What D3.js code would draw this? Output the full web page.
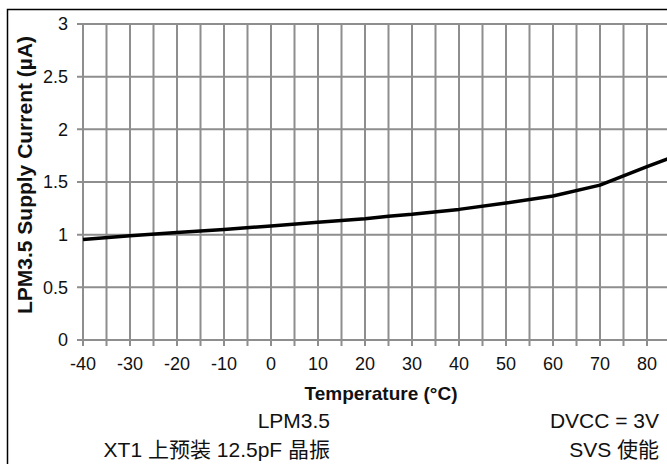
<!DOCTYPE html>
<html>
<head>
<meta charset="utf-8">
<script src="https://cdn.jsdelivr.net/npm/d3@7"></script>
<style>
body { margin: 0; background: #fff; }
text { font-family: "Liberation Sans", Arial, "Noto Sans CJK SC", sans-serif; fill: #111; }
</style>
</head>
<body>
<svg id="chart" width="667" height="464"></svg>
<script>
// LPM3.5 supply current vs temperature
var temps = [-40, -30, -20, -10, 0, 10, 20, 25, 30, 40, 50, 60, 70, 80, 85];
var current = [0.955, 0.99, 1.02, 1.05, 1.083, 1.117, 1.152, 1.175, 1.193, 1.24, 1.30, 1.367, 1.47, 1.645, 1.73];
var xTicks = [-40, -30, -20, -10, 0, 10, 20, 30, 40, 50, 60, 70, 80];
var yTicks = [0, 0.5, 1, 1.5, 2, 2.5, 3];
var notes = [
	{ text: "LPM3.5", col: 0, row: 0 },
	{ text: "DVCC = 3V", col: 1, row: 0 },
	{ text: "XT1 上预装 12.5pF 晶振", col: 0, row: 1 },
	{ text: "SVS 使能", col: 1, row: 1 }
];

var svg = d3.select("#chart");
var W = 667, H = 464;

var x = d3.scaleLinear().domain([-40, 90]).range([83, 694]);
var y = d3.scaleLinear().domain([0, 3]).range([340, 24]);

// frame (cropped on right/bottom)
svg.append("path")
	.attr("d", "M7.5," + H + "V9.5H" + W)
	.attr("fill", "none")
	.attr("stroke", "#000")
	.attr("stroke-width", 1.5);

var grid = svg.append("g").attr("stroke", "#8e8e8e").attr("stroke-width", 2);

// vertical grid every 5 degrees, with tick below axis
grid.selectAll("line.v")
	.data(d3.range(-40, 90, 5))
	.enter().append("line")
	.attr("x1", function(d) { return x(d); })
	.attr("x2", function(d) { return x(d); })
	.attr("y1", y(3))
	.attr("y2", y(0) + 6);

// horizontal grid
grid.selectAll("line.h")
	.data(yTicks)
	.enter().append("line")
	.attr("x1", x(-40) - 6)
	.attr("x2", W)
	.attr("y1", function(d) { return y(d); })
	.attr("y2", function(d) { return y(d); });

// y tick labels
svg.selectAll("text.yt")
	.data(yTicks)
	.enter().append("text")
	.attr("x", 68)
	.attr("y", function(d) { return y(d); })
	.attr("dy", "0.36em")
	.attr("text-anchor", "end")
	.style("font-size", "18px")
	.text(function(d) { return d; });

// x tick labels
svg.selectAll("text.xt")
	.data(xTicks)
	.enter().append("text")
	.attr("x", function(d) { return x(d); })
	.attr("y", 370)
	.attr("text-anchor", "middle")
	.style("font-size", "18px")
	.text(function(d) { return d; });

// data line
var line = d3.line()
	.x(function(d, i) { return x(temps[i]); })
	.y(function(d) { return y(d); });

svg.append("path")
	.datum(current)
	.attr("d", line)
	.attr("fill", "none")
	.attr("stroke", "#000")
	.attr("stroke-width", 3.5)
	.attr("stroke-linejoin", "round");

// axis titles
svg.append("text")
	.attr("transform", "translate(32,175) rotate(-90)")
	.attr("text-anchor", "middle")
	.style("font-size", "21px")
	.style("font-weight", "bold")
	.text("LPM3.5 Supply Current (µA)");

svg.append("text")
	.attr("x", 381)
	.attr("y", 400)
	.attr("text-anchor", "middle")
	.style("font-size", "19px")
	.style("font-weight", "bold")
	.text("Temperature (°C)");

// condition notes, right aligned in two columns
var colX = [330, 659];
var rowY = [428, 457];
svg.selectAll("text.note")
	.data(notes)
	.enter().append("text")
	.attr("x", function(d) { return colX[d.col]; })
	.attr("y", function(d) { return rowY[d.row]; })
	.attr("text-anchor", "end")
	.style("font-size", "21px")
	.text(function(d) { return d.text; });
</script>
</body>
</html>
